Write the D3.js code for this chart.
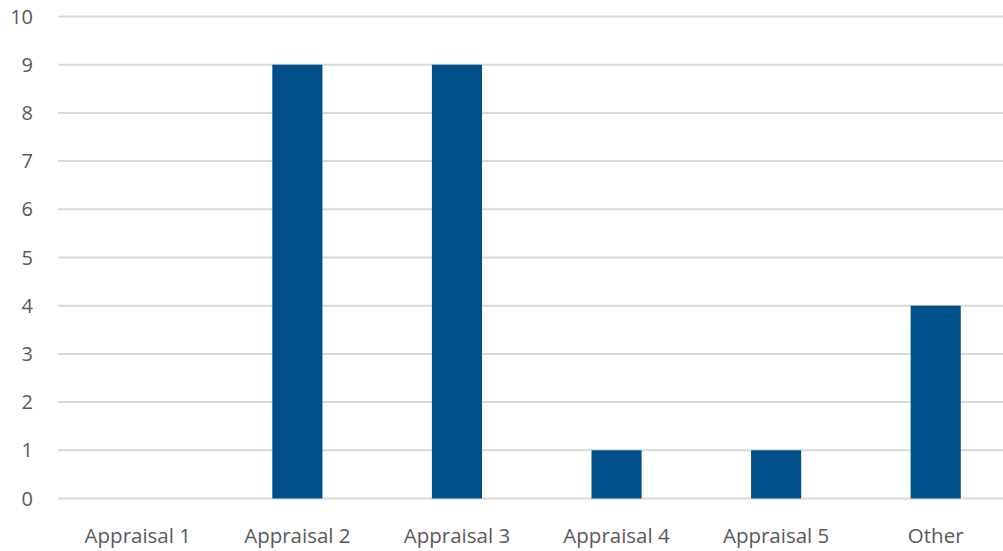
<!DOCTYPE html>
<html>
<head>
<meta charset="utf-8">
<script src="https://cdn.jsdelivr.net/npm/d3@7"></script>
<style>
  html, body { margin: 0; padding: 0; background: #fff; }
  svg { display: block; }
  text { font-family: "Open Sans", "Noto Sans", sans-serif; fill: #595959; }
</style>
</head>
<body>
<svg id="chart" width="1003" height="551"></svg>
<script>
// Counts per appraisal category
const categories = ["Appraisal 1", "Appraisal 2", "Appraisal 3", "Appraisal 4", "Appraisal 5", "Other"];
const counts = [0, 9, 9, 1, 1, 4];
const yTicks = [0, 1, 2, 3, 4, 5, 6, 7, 8, 9, 10];

const svg = d3.select("#chart");
const plot = { left: 58, right: 1015.5, top: 16.5, bottom: 498.5 };

const x = d3.scaleBand().domain(categories).range([plot.left, plot.right])
  .paddingInner(0.686).paddingOuter(0.343);
const y = d3.scaleLinear().domain([0, 10]).range([plot.bottom, plot.top]);

// Horizontal gridlines
svg.append("g").selectAll("line").data(yTicks).join("line")
  .attr("x1", plot.left).attr("x2", plot.right)
  .attr("y1", d => y(d)).attr("y2", d => y(d))
  .attr("stroke", "#d9d9d9").attr("stroke-width", 2);

// Y tick labels
svg.append("g").selectAll("text").data(yTicks).join("text")
  .attr("x", 33).attr("y", d => y(d))
  .attr("dy", "0.35em").attr("text-anchor", "end")
  .attr("font-size", 20)
  .text(d => d);

// Bars
svg.append("g").selectAll("rect").data(categories).join("rect")
  .attr("x", d => x(d))
  .attr("width", x.bandwidth())
  .attr("y", (d, i) => y(counts[i]))
  .attr("height", (d, i) => y(0) - y(counts[i]))
  .attr("fill", "#004f8b");

// Category labels
svg.append("g").selectAll("text").data(categories).join("text")
  .attr("x", d => x(d) + x.bandwidth() / 2).attr("y", 536)
  .attr("dy", "0.35em").attr("text-anchor", "middle")
  .attr("font-size", 20.5)
  .text(d => d);
</script>
</body>
</html>
